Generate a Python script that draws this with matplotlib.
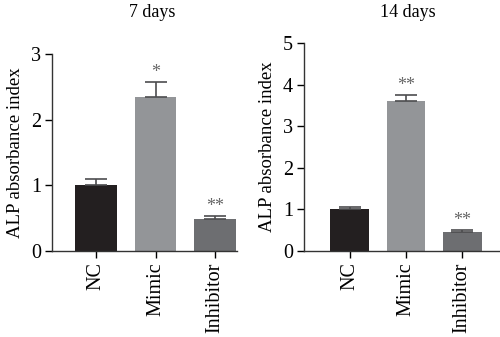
import matplotlib
matplotlib.use("Agg")
import matplotlib.pyplot as plt

categories = ["NC", "Mimic", "Inhibitor"]
vals_7 = [1.0, 2.34, 0.49]
err_7 = [0.10, 0.23, 0.05]
sig_7 = ["", "*", "**"]
vals_14 = [1.0, 3.6, 0.45]
err_14 = [0.05, 0.16, 0.06]
sig_14 = ["", "**", "**"]
colors = ["#231f20", "#939598", "#6d6e71"]

plt.rcParams["font.family"] = ["Liberation Serif", "DejaVu Serif"]

fig = plt.figure(figsize=(5, 3.37), dpi=100)

def panel(rect, vals, errs, sigs, ymax, xlim, width):
    ax = fig.add_axes(rect)
    x = list(range(len(categories)))
    ax.bar(x, vals, width=width, color=colors, zorder=2)
    ax.errorbar(x, vals, yerr=[[0]*len(errs), errs], fmt="none",
                ecolor="#4d4d4f", elinewidth=1.2, capsize=8, capthick=1.2, zorder=3)
    for xi, v, e, s in zip(x, vals, errs, sigs):
        if s:
            ax.text(xi, v + e + ymax*0.005, s, ha="center", va="bottom",
                    fontsize=13, color="#666666")
    ax.set_ylim(0, ymax)
    ax.set_xlim(*xlim)
    ax.set_yticks(range(0, ymax + 1))
    ax.set_xticks(x)
    ax.set_xticklabels(categories, rotation=90, fontsize=14.5)
    ax.tick_params(axis="y", labelsize=14.5, direction="out", length=5, width=1, pad=3)
    ax.tick_params(axis="x", direction="out", length=5, width=1, pad=3)
    for sp in ["top", "right"]:
        ax.spines[sp].set_visible(False)
    for sp in ["left", "bottom"]:
        ax.spines[sp].set_linewidth(1.0)
        ax.spines[sp].set_color("#333333")
    ax.set_ylabel("ALP absorbance index", fontsize=13.5, labelpad=5)
    return ax

ax1 = panel([0.104, 0.255, 0.37, 0.585], vals_7, err_7, sig_7, 3, (-0.74, 2.37), 0.70)
ax2 = panel([0.608, 0.255, 0.392, 0.617], vals_14, err_14, sig_14, 5, (-0.81, 2.67), 0.69)

fig.text(0.304, 0.962, "7 days", ha="center", va="center", fontsize=13)
fig.text(0.816, 0.962, "14 days", ha="center", va="center", fontsize=13)

fig.savefig("out.png", dpi=100)
